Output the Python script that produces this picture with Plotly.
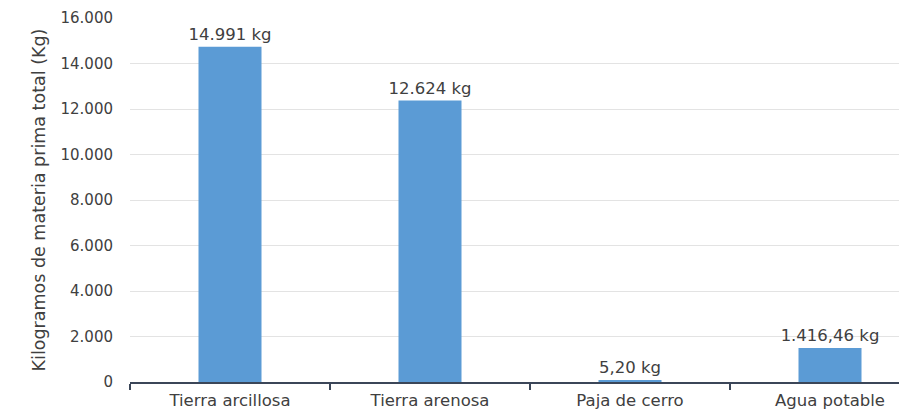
import plotly.graph_objects as go

categories = ["Tierra arcillosa", "Tierra arenosa", "Paja de cerro", "Agua potable"]
values = [14740, 12370, 90, 1490]
value_labels = ["14.991 kg", "12.624 kg", "5,20 kg", "1.416,46 kg"]
y_ticks = [0, 2000, 4000, 6000, 8000, 10000, 12000, 14000, 16000]

FONT = "'DejaVu Sans', sans-serif"
TXT = "#404040"

fig = go.Figure(go.Bar(
    x=categories,
    y=values,
    text=value_labels,
    textposition="outside",
    constraintext="none",
    textfont=dict(family=FONT, size=16.5, color=TXT),
    marker=dict(color="#5b9bd5", line=dict(width=0)),
    width=0.315,
    cliponaxis=False,
))

fig.update_layout(
    width=899, height=411,
    margin=dict(l=130, r=0, t=18, b=29),
    paper_bgcolor="white", plot_bgcolor="white",
    separators=",.",
    showlegend=False,
    font=dict(family=FONT, size=15, color=TXT),
)
fig.update_xaxes(
    range=[-0.5, 3.345],
    showline=True, linecolor="#3b4658", linewidth=2,
    ticks="outside", tickson="boundaries", ticklen=6, tickcolor="#3b4658", tickwidth=1.5,
    tickfont=dict(family=FONT, size=16.5, color=TXT),
    ticklabelstandoff=2,
    showgrid=False,
)
fig.update_yaxes(
    range=[0, 16000],
    tickvals=y_ticks, tickformat=",d",
    showgrid=True, gridcolor="#e3e3e3", gridwidth=1,
    zeroline=False, showline=False, ticks="",
    ticklabelstandoff=16,
    tickfont=dict(family=FONT, size=15, color=TXT),
    title=dict(text="Kilogramos de materia prima total (Kg)", standoff=10,
               font=dict(family=FONT, size=17.5, color=TXT)),
)

fig.write_html("out.html")
